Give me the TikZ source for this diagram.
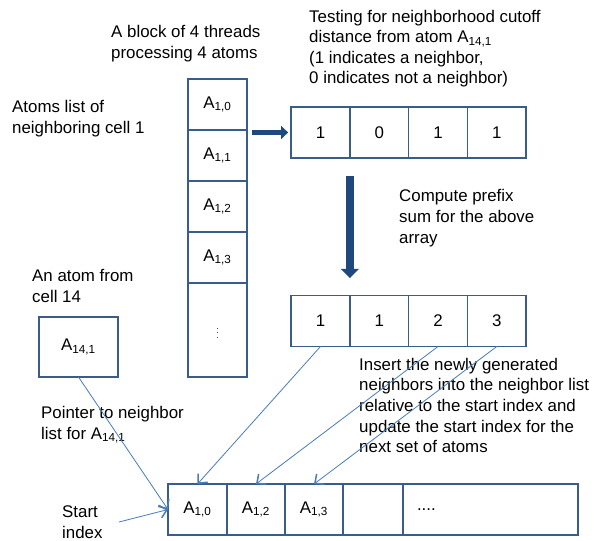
\documentclass[tikz,border=0pt]{standalone}
\usepackage{fontspec}
\setmainfont{Liberation Sans}
\usetikzlibrary{arrows.meta,positioning}

\definecolor{boxblue}{RGB}{56,93,138}
\definecolor{darkblue}{RGB}{31,73,125}
\definecolor{lineblue}{RGB}{74,126,187}

\tikzset{
	cell/.style={draw=boxblue, line width=1.1pt, minimum width=1.77cm, minimum height=1.53cm, inner sep=0pt, outer sep=0pt},
	txt/.style={anchor=base west, align=left, inner sep=0pt},
	fatarrow/.style={darkblue, line width=4.5pt, -{Triangle[length=6pt,width=11pt]}},
	fatarrowv/.style={darkblue, line width=6.5pt, -{Triangle[length=8pt,width=15pt]}},
	ptr/.style={lineblue, line width=0.7pt, -{Straight Barb[length=6pt,width=11pt,line width=1.3pt]}}
}

\newcommand{\atm}[1]{A\textsubscript{#1}}

\begin{document}
\begin{tikzpicture}[x=0.03cm,y=-0.03cm,font=\fontsize{14.4}{17.5}\selectfont]
	\useasboundingbox (0,0) rectangle (598,540);

	% block of atoms from cell 1
	\node[cell] (c0) at (217.5,104.5) {\atm{1,0}};
	\node[cell, below=0pt of c0] (c1) {\atm{1,1}};
	\node[cell, below=0pt of c1] (c2) {\atm{1,2}};
	\node[cell, below=0pt of c2] (c3) {\atm{1,3}};
	\node[cell, below=0pt of c3, minimum height=2.82cm] (c4) {\fontsize{7}{7}\selectfont$\vdots$};

	% cutoff test
	\node[cell, minimum width=1.7625cm] (t0) at (320.5,132.5) {1};
	\node[cell, minimum width=1.7625cm, right=0pt of t0] (t1) {0};
	\node[cell, minimum width=1.7625cm, right=0pt of t1] (t2) {1};
	\node[cell, minimum width=1.7625cm, right=0pt of t2] (t3) {1};

	% prefix sum
	\node[cell, minimum width=1.7625cm] (p0) at (320.5,321) {1};
	\node[cell, minimum width=1.7625cm, right=0pt of p0] (p1) {1};
	\node[cell, minimum width=1.7625cm, right=0pt of p1] (p2) {2};
	\node[cell, minimum width=1.7625cm, right=0pt of p2] (p3) {3};

	% atom from cell 14
	\node[cell, minimum width=2.37cm, minimum height=1.8cm] (a14) at (78.5,347) {\atm{14,1}};

	% neighbor list
	\node[cell] (r0) at (197.5,509.5) {\atm{1,0}};
	\node[cell, minimum width=1.74cm, right=0pt of r0] (r1) {\atm{1,2}};
	\node[cell, minimum width=1.74cm, right=0pt of r1] (r2) {\atm{1,3}};
	\node[cell, minimum width=1.8cm, right=0pt of r2] (r3) {};
	\node[cell, minimum width=5.25cm, text width=4.41cm, inner xsep=0.42cm, align=left, right=0pt of r3] (r4) {....};

	% labels (anchored at the baseline of their last line)
	\node[txt] (blocklbl) at (111,58.5) {A block of 4 threads\\processing 4 atoms};
	\node[txt] (listlbl) at (12,133.5) {Atoms list of\\neighboring cell 1};
	\node[txt] (testlbl) at (309,84) {Testing for neighborhood cutoff\\distance from atom \atm{14,1}\\(1 indicates a neighbor,\\0 indicates not a neighbor)};
	\node[txt] (prefixlbl) at (399,243) {Compute prefix\\sum for the above\\array};
	\node[txt] (atomlbl) at (32,302.5) {An atom from\\cell 14};
	\node[txt] (ptrlbl) at (41,439) {Pointer to neighbor\\list for \atm{14,1}};
	\node[txt] (insertlbl) at (359,452.5) {Insert the newly generated\\neighbors into the neighbor list\\relative to the start index and\\update the start index for the\\next set of atoms};
	\node[txt] (startlbl) at (62,538) {Start\\index};
	\coordinate (startptr) at (119,522);

	% arrows
	\draw[fatarrow] ([xshift=-1.17cm]t0.west) -- ([xshift=-0.09cm]t0.west);
	\draw[fatarrowv] ([yshift=-0.55cm]t0.south east) -- ([yshift=0.52cm]p0.north east);
	\draw[ptr] (p0.south) -- (r0.north);
	\draw[ptr] (p2.south) -- (r1.north);
	\draw[ptr] (p3.south) -- (r2.north);
	\draw[ptr] (a14.south) -- (r0.west);
	\draw[ptr] (startptr) -- (r0.west);
\end{tikzpicture}
\end{document}
